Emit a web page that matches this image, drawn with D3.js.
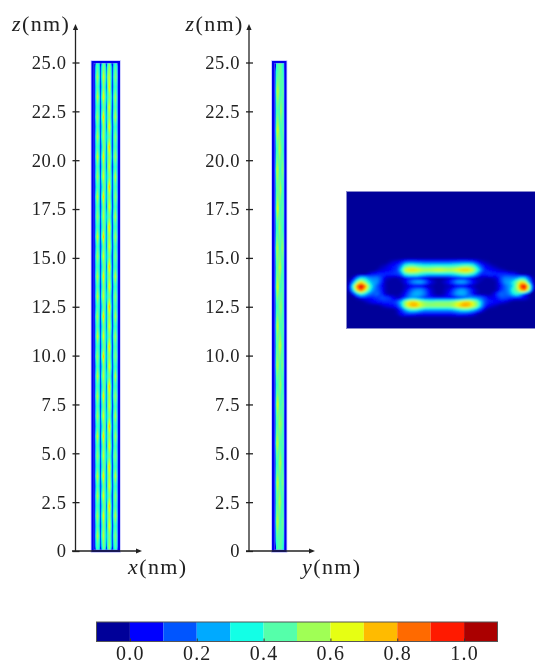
<!DOCTYPE html>
<html>
<head>
<meta charset="UTF-8">
<title>density_maps</title>
<style type="text/css">
	html, body { margin: 0; padding: 0; background: #fff; }
	svg { display: block; filter: blur(0.55px); }
	text { font-family: "Liberation Serif", serif; fill: #222; }
	.axis text { font-size: 18.5px; letter-spacing: 0.6px; }
	.axis path, .axis line, .arrow { stroke: #222; stroke-width: 1.3; }
	.label { font-size: 22px; letter-spacing: 1.4px; }
	.label .var { font-style: italic; }
	.bar_ticks text { font-size: 20px; letter-spacing: 1.2px; }
	.bar_ticks line { stroke: #333; }
	.bar_ticks path { display: none; }
</style>
<script type="text/javascript" src="https://cdn.jsdelivr.net/npm/d3@7/dist/d3.min.js"></script>
</head>
<body>
<div id="div_main"></div>
<script type="text/javascript">

	var zTicks = [0, 2.5, 5, 7.5, 10, 12.5, 15, 17.5, 20, 22.5, 25];
	var barTicks = [0, 0.2, 0.4, 0.6, 0.8, 1];
	var barEdges = [-0.1, 0, 0.1, 0.2, 0.3, 0.4, 0.5, 0.6, 0.7, 0.8, 0.9, 1, 1.1];
	var barColors = ["#000099", "#0000ff", "#0055ff", "#00aaff", "#13ffe6", "#55ffaa",
					 "#a0ff55", "#e6ff13", "#ffbb00", "#ff6a00", "#ff1a00", "#aa0000"];

	// density along x (columns) and z (rows, top to bottom), percent of colour range
	var xzDensity = [
		[6,10,40,46,38,11,40,52,44,16,46,56,40,11,36,48,40,9],
		[6,10,46,58,40,12,44,64,48,24,54,60,42,12,40,54,44,9],
		[7,11,40,48,36,11,38,54,42,18,48,72,38,11,36,46,38,8],
		[6,10,44,62,42,13,46,70,46,28,44,54,44,13,42,58,42,9],
		[6,11,38,46,38,11,40,50,44,16,52,66,40,11,38,50,38,9],
		[7,10,46,56,40,12,48,74,40,26,46,56,36,12,44,60,44,8],
		[6,10,36,48,36,14,38,56,46,16,50,70,42,14,36,46,36,9],
		[6,11,44,60,42,11,46,60,42,30,44,52,40,11,40,56,42,9],
		[7,10,40,46,38,12,36,52,48,18,54,74,38,12,38,48,38,8],
		[6,10,46,64,40,13,44,72,40,24,46,58,44,13,44,58,44,9],
		[6,11,38,48,36,11,40,54,44,16,50,64,38,11,36,46,36,9],
		[7,10,44,58,42,12,48,66,42,28,42,54,42,12,42,62,42,8],
		[6,10,36,46,40,14,36,50,48,18,52,76,40,14,38,48,38,9],
		[6,11,46,62,38,11,46,74,40,26,46,56,38,11,40,56,44,9],
		[7,10,40,48,36,12,38,54,44,16,48,68,44,12,36,48,36,8],
		[6,10,44,56,42,13,44,62,42,30,44,52,36,13,44,60,42,9],
		[6,11,38,46,38,11,40,50,46,16,54,72,42,11,38,46,38,9],
		[7,10,46,64,40,12,48,76,40,24,46,58,38,12,42,58,44,8],
		[6,10,36,48,36,14,36,52,44,18,50,66,44,14,36,48,36,9],
		[6,11,44,58,42,11,46,66,42,28,42,54,36,11,40,54,42,9],
		[7,10,40,46,38,12,38,50,48,16,52,74,42,12,38,46,38,8],
		[6,10,46,60,40,13,44,72,40,26,46,56,38,13,44,62,44,9],
		[6,11,38,48,36,11,40,54,44,18,48,70,44,11,36,46,36,9],
		[7,10,44,62,42,12,48,64,42,30,44,52,36,12,42,56,42,8],
		[6,10,36,46,40,14,36,50,46,16,54,76,42,14,38,48,38,9],
		[6,11,46,58,38,11,46,74,40,24,46,58,38,11,40,60,44,9],
		[7,10,40,48,36,12,38,52,44,18,50,66,44,12,36,46,36,8],
		[6,10,44,64,42,13,44,68,42,28,42,54,36,13,44,58,42,9],
		[6,11,38,46,38,11,40,50,48,16,52,72,42,11,38,48,38,9],
		[7,10,46,56,40,12,48,76,40,26,46,56,38,12,42,54,44,8],
		[6,10,36,48,36,14,36,54,44,18,48,68,44,14,36,46,36,9],
		[6,11,44,62,42,11,46,62,42,30,44,52,36,11,40,62,42,9],
		[7,10,40,46,38,12,38,50,46,16,54,74,42,12,38,46,38,8],
		[6,10,46,60,40,13,44,72,40,24,46,60,38,13,44,56,44,9],
		[6,11,38,48,36,11,40,52,44,18,50,64,44,11,36,48,36,9],
		[7,10,44,58,42,12,48,66,42,28,42,54,36,12,42,60,42,8],
		[6,10,36,46,40,14,36,50,48,16,52,76,42,14,38,46,38,9],
		[6,11,46,64,38,11,46,74,40,26,46,56,38,11,40,58,44,9],
		[7,10,40,48,36,12,38,54,44,18,48,70,44,12,36,48,36,8],
		[6,10,44,56,42,13,44,64,42,30,44,52,36,13,44,54,42,9],
		[6,11,38,46,38,11,40,50,46,16,54,72,42,11,38,46,38,9],
		[7,10,46,62,40,12,48,72,40,24,46,60,38,12,42,62,44,8],
		[6,10,36,48,36,14,36,52,44,18,50,66,44,14,36,46,36,9],
		[6,11,44,60,42,11,46,68,42,28,42,54,36,11,40,56,42,9],
		[7,10,40,46,38,12,38,50,48,16,52,74,42,12,38,48,38,8],
		[6,10,46,58,40,13,44,70,40,26,46,58,38,13,44,60,44,9],
		[6,11,38,48,36,11,40,54,44,18,48,68,44,11,36,46,36,9],
		[7,10,44,60,42,12,46,62,42,28,44,54,38,12,42,54,42,8],
		[6,10,38,46,38,12,38,52,44,16,46,58,40,12,36,48,38,9]
	];

	var yzDensity = [
		[7,9,42,46,48,50,46,40,8],
		[7,10,50,60,50,44,46,50,8],
		[8,9,44,48,42,56,50,42,9],
		[7,10,52,64,50,44,44,50,8],
		[7,9,42,46,58,54,46,40,8],
		[8,10,54,60,44,44,52,50,9],
		[7,9,46,50,50,60,44,42,8],
		[7,10,50,66,46,44,48,46,8],
		[8,9,42,44,56,50,46,40,9],
		[7,10,54,58,44,46,54,50,8],
		[7,9,46,50,58,58,44,42,8],
		[8,10,52,64,46,44,46,46,9],
		[7,9,42,46,50,54,50,40,8],
		[7,10,50,62,44,46,44,50,8],
		[8,9,46,48,58,60,46,42,9],
		[7,10,52,58,46,44,52,46,8],
		[7,9,42,46,50,56,44,40,8],
		[8,10,50,64,46,44,46,50,9],
		[7,9,44,48,56,54,50,42,8],
		[7,10,54,60,44,46,44,48,8],
		[8,9,42,44,54,58,46,40,9],
		[7,10,50,62,46,44,50,50,8],
		[7,9,46,48,58,54,44,42,8],
		[8,10,52,60,46,44,48,48,9],
		[7,9,42,46,46,48,46,40,8]
	];

	// cross section: rows listed from crossFirstRow, each starting at column crossRowStart
	var crossCols = 47;
	var crossRowCount = 34;
	var crossFirstRow = 17;
	var crossRowStart = [10, 8, 7, 5, 0, 0, 0, 0, 0, 2, 4, 8, 12, 12];
	var crossRowValues = [
		[3,6,8,12,18,20,20,19,18,17,17,17,17,17,17,17,18,19,20,20,19,17,12,7,4,2],
		[3,5,8,11,14,24,42,48,48,44,42,40,40,41,41,41,41,41,42,44,46,49,49,44,30,18,10,7,4,2],
		[3,6,8,10,12,16,34,62,70,72,68,62,60,60,62,64,64,62,60,62,66,72,74,72,62,44,26,14,11,9,7,5,3],
		[6,10,12,14,14,14,15,15,22,40,46,46,44,40,36,34,34,34,34,34,34,36,40,44,48,46,40,26,15,14,16,15,14,14,13,12,10,6],
		[1,6,22,36,34,26,24,24,18,7,4,3,3,4,8,12,13,12,10,7,4,3,2,2,3,5,9,11,13,13,10,7,4,3,3,3,4,7,18,24,24,24,26,34,32,18,4],
		[3,22,50,68,52,36,28,26,16,4,2,2,2,3,8,18,26,30,30,24,14,6,3,3,6,12,20,28,30,28,20,12,6,3,2,2,2,4,16,26,28,36,52,68,60,30,6],
		[6,42,82,100,84,50,30,20,12,4,2,2,2,2,4,7,9,9,8,6,4,3,2,2,3,4,6,8,9,8,6,4,2,2,2,2,2,4,12,20,26,34,56,90,98,58,10],
		[5,34,70,88,68,42,26,20,14,4,2,2,2,2,6,14,22,26,26,20,10,4,2,2,4,8,16,24,28,26,18,10,4,2,2,2,2,4,14,20,26,42,52,76,84,50,8],
		[1,10,28,40,34,24,20,22,16,6,2,2,2,4,10,20,28,30,28,22,12,5,2,2,5,12,20,28,30,28,20,10,4,2,2,2,6,16,22,20,24,34,40,30,12,3],
		[4,8,10,10,12,15,18,18,16,10,5,8,16,24,26,24,20,16,14,11,10,10,10,10,11,13,16,20,24,26,24,22,16,10,8,12,18,18,15,12,10,10,8,4],
		[3,6,9,11,12,14,14,14,20,32,54,68,72,68,58,52,50,50,52,52,52,52,54,60,66,72,72,62,50,32,18,13,12,10,8,6,3],
		[3,6,8,10,14,28,54,70,76,74,62,56,54,54,54,54,54,54,58,66,74,78,74,64,52,30,14,8,5,3],
		[4,14,26,36,38,36,30,26,26,26,26,26,26,26,28,32,36,38,36,30,22,14,4],
		[3,10,13,14,13,11,10,10,10,10,10,10,10,10,11,13,14,13,11,9,4]
	];

	var svg_w = 535, svg_h = 663;
	var levels = d3.range(1, 100, 2);

	var scaleHeat = d3.scaleLinear()
						.domain(barColors.map(function (d, i) { return i * 100 / (barColors.length - 1); }))
						.range(barColors)
						.clamp(true);

	var svg = d3.select("#div_main")
					.append("svg")
						.attr("width", svg_w)
						.attr("height", svg_h);

	var defs = svg.append("defs");
	defs.append("filter")
			.attr("id", "soft")
			.append("feGaussianBlur")
				.attr("stdDeviation", 1.2);

	// draws a grid of values as filled contours inside the given pixel box
	function drawDensity(rows, box, clipId) {

		var nRows = rows.length, nCols = rows[0].length;
		var values = d3.merge(rows);

		var scaleCol = d3.scaleLinear().domain([0, nCols]).range([box.x0, box.x1]);
		var scaleRow = d3.scaleLinear().domain([0, nRows]).range([box.y0, box.y1]);

		var path = d3.geoPath(d3.geoTransform({
			point: function (x, y) { this.stream.point(scaleCol(x), scaleRow(y)); }
		}));

		var contours = d3.contours()
							.size([nCols, nRows])
							.smooth(true)
							.thresholds(levels)(values);

		defs.append("clipPath")
				.attr("id", clipId)
				.append("rect")
					.attr("x", box.x0)
					.attr("y", box.y0)
					.attr("width", box.x1 - box.x0)
					.attr("height", box.y1 - box.y0);

		var g = svg.append("g").attr("clip-path", "url(#" + clipId + ")");

		g.append("rect")
			.attr("x", box.x0)
			.attr("y", box.y0)
			.attr("width", box.x1 - box.x0)
			.attr("height", box.y1 - box.y0)
			.attr("fill", scaleHeat(box.low));

		var inner = g.append("g");
		if (box.soft) { inner.attr("filter", "url(#soft)"); }

		inner.selectAll("path")
			.data(contours)
			.enter()
			.append("path")
				.attr("d", path)
				.attr("fill", function (d) { return scaleHeat(d.value); });
	}

	function drawAxes(x0, xEnd, name, nameX) {

		var scaleZ = d3.scaleLinear().domain([0, 25]).range([551, 62.5]);

		var axisZ = d3.axisLeft(scaleZ)
						.tickValues(zTicks)
						.tickSizeOuter(0)
						.tickPadding(3)
						.tickFormat(function (d) { return d === 0 ? "0" : d3.format(".1f")(d); });

		var g = svg.append("g")
					.attr("class", "axis")
					.attr("transform", "translate(" + x0 + ",0)")
					.call(axisZ);

		g.select(".domain").remove();
		g.selectAll("line").attr("x1", 4).attr("x2", -3);

		svg.append("line").attr("class", "arrow")
			.attr("x1", x0).attr("x2", x0).attr("y1", 551).attr("y2", 28);

		svg.append("path")
			.attr("d", "M" + x0 + ",24L" + (x0 + 2.6) + ",30L" + (x0 - 2.6) + ",30Z")
			.attr("fill", "#222");
		svg.append("path")
			.attr("d", "M" + (xEnd + 3) + ",551L" + (xEnd - 3) + "," + 548.4 + "L" + (xEnd - 3) + "," + 553.6 + "Z")
			.attr("fill", "#222");

		addLabel("z", x0 - 63.5, 31);
		addLabel(name, nameX, 574);
	}

	function addLabel(name, x, y) {
		var t = svg.append("text").attr("class", "label").attr("x", x).attr("y", y);
		t.append("tspan").attr("class", "var").text(name);
		t.append("tspan").text("(nm)");
	}

	drawAxes(75.5, 139, "x", 128);
	drawAxes(249, 312, "y", 302);

	drawDensity(xzDensity, { x0: 92.5, x1: 119, y0: 62, y1: 551, low: 8 }, "clip_xz");
	drawDensity(yzDensity, { x0: 273, x1: 285.5, y0: 62, y1: 551, low: 8 }, "clip_yz");

	// outlines of the two wire sections
	[[92.5, 119], [273, 285.5]].forEach(function (d) {
		svg.append("rect")
			.attr("x", d[0])
			.attr("y", 62)
			.attr("width", d[1] - d[0])
			.attr("height", 489)
			.attr("fill", "none")
			.attr("stroke", "#8888ff")
			.attr("stroke-opacity", 0.5)
			.attr("stroke-width", 3.6);
		svg.append("rect")
			.attr("x", d[0])
			.attr("y", 62)
			.attr("width", d[1] - d[0])
			.attr("height", 489)
			.attr("fill", "none")
			.attr("stroke", "#0000ee")
			.attr("stroke-width", 2);
	});

	// foot of the x axes goes over the outlines
	svg.append("line").attr("class", "arrow").attr("x1", 72).attr("x2", 139).attr("y1", 551).attr("y2", 551);
	svg.append("line").attr("class", "arrow").attr("x1", 246).attr("x2", 312).attr("y1", 551).attr("y2", 551);

	// cross section
	var crossRows = d3.range(crossRowCount).map(function (k) {
		var row = d3.range(crossCols).map(function () { return 0; });
		var i = k - crossFirstRow;
		if (i >= 0 && i < crossRowValues.length) {
			crossRowValues[i].forEach(function (v, c) { row[crossRowStart[i] + c] = v; });
		}
		return row;
	});

	drawDensity(crossRows, { x0: 347, x1: 535, y0: 192, y1: 328, low: 0, soft: true }, "clip_cross");

	svg.append("rect")
		.attr("x", 346.5).attr("y", 191.5).attr("width", 190).attr("height", 137)
		.attr("fill", "none")
		.attr("stroke", "#8888cc")
		.attr("stroke-width", 1);

	// colour bar
	var scaleBar = d3.scaleLinear().domain([-0.1, 1.1]).range([96.5, 497.5]);

	svg.selectAll("rect.bin")
			.data(barColors)
			.enter()
			.append("rect")
				.attr("class", "bin")
				.attr("x", function (d, i) { return scaleBar(barEdges[i]); })
				.attr("y", 622)
				.attr("width", function (d, i) { return scaleBar(barEdges[i + 1]) - scaleBar(barEdges[i]); })
				.attr("height", 19.5)
				.attr("fill", function (d) { return d; });

	svg.append("rect")
		.attr("x", scaleBar(-0.1))
		.attr("y", 622)
		.attr("width", scaleBar(1.1) - scaleBar(-0.1))
		.attr("height", 19.5)
		.attr("fill", "none")
		.attr("stroke", "#555")
		.attr("stroke-width", 1);

	svg.append("g")
		.attr("class", "bar_ticks")
		.attr("transform", "translate(0,641.5)")
		.call(d3.axisBottom(scaleBar)
				.tickValues(barTicks)
				.tickSize(-3)
				.tickPadding(4)
				.tickFormat(d3.format(".1f")));

</script>
</body>
</html>
